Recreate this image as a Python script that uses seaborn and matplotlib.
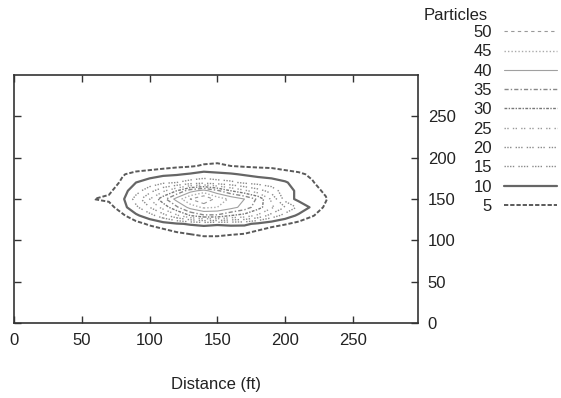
import numpy as np
import matplotlib
matplotlib.use("Agg")
import matplotlib.pyplot as plt
from matplotlib.lines import Line2D
import seaborn as sns

# grid of particle counts
distance_x = [50, 60, 70, 80, 90, 100, 110, 120, 130, 140,
              150, 160, 170, 180, 190, 200, 210, 220, 230, 240]
distance_y = [90, 100, 110, 120, 130, 140, 150, 160, 170, 180, 190, 200, 210]

counts_y090 = [0] * 20
counts_y100 = [0, 0, 0, 0, 0, 0, 0, 0.5, 2, 3, 3, 2, 1, 0, 0, 0, 0, 0, 0, 0]
counts_y110 = [0, 0, 0, 0, 0, 1, 3, 5, 6, 7, 7, 6.5, 6, 4, 2, 0, 0, 0, 0, 0]
counts_y120 = [0, 0, 0, 0, 3, 6, 8, 9.5, 10.5, 11, 10.5, 11, 11, 9, 7, 5.5, 3.5, 1, 0, 0]
counts_y130 = [0, 0, 0, 4, 9, 13, 18, 24, 30, 34, 34, 30, 28, 24, 18, 13, 9, 5.5, 2, 0]
counts_y140 = [0, 0, 3, 8, 14, 20, 27, 34, 42, 46, 45, 42, 38, 32, 26, 20, 14, 9, 4, 0]
counts_y150 = [0, 5.2, 6, 9, 17, 25, 33, 42, 50, 55, 48, 44, 40, 34, 24, 13, 8.5, 7, 5.5, 0]
counts_y160 = [0, 1, 4, 8, 13, 18, 24, 30, 38, 42, 36, 30, 26, 22, 18, 12, 9, 7, 4, 0]
counts_y170 = [0, 0, 2, 6, 10, 12, 14, 15, 17, 18, 17, 16, 14, 13, 12, 10.5, 8, 5.5, 2, 0]
counts_y180 = [0, 0, 0, 4.5, 7, 8, 9, 9.5, 10.5, 12, 11, 10.5, 9.5, 8.5, 8, 7, 6, 4, 0, 0]
counts_y190 = [0, 0, 0, 0, 1, 2, 3, 4, 4.5, 5.5, 6, 5, 4.5, 4.2, 4, 3, 2, 0, 0, 0]
counts_y200 = [0, 0, 0, 0, 0, 0, 0, 1, 2, 3, 3, 2, 1, 1, 0, 0, 0, 0, 0, 0]
counts_y210 = [0] * 20

levels = [5, 10, 15, 20, 25, 30, 35, 40, 45, 50]

# line look per level (gnuplot-like greys and dash patterns)
level_styles = {
    5: ("#5a5a5a", 1.4, (0, (2.2, 1.0))),
    10: ("#666666", 1.6, "solid"),
    15: ("#8a8a8a", 1.0, (0, (1, 1, 1, 1, 1, 1, 1, 3))),
    20: ("#8a8a8a", 1.0, (0, (1, 1, 1, 1, 1, 3))),
    25: ("#999999", 1.0, (0, (1, 1, 1, 3))),
    30: ("#777777", 1.0, (0, (2, 1, 1, 1))),
    35: ("#888888", 1.0, (0, (3, 1.5, 1, 1.5))),
    40: ("#a0a0a0", 0.8, "solid"),
    45: ("#aaaaaa", 1.0, (0, (1, 1.5))),
    50: ("#999999", 0.8, (0, (3, 3))),
}

sns.set_theme(style="white")
plt.rcParams["font.family"] = ["Liberation Sans", "DejaVu Sans"]

Z = np.array([counts_y090, counts_y100, counts_y110, counts_y120, counts_y130,
              counts_y140, counts_y150, counts_y160, counts_y170, counts_y180,
              counts_y190, counts_y200, counts_y210])
X, Y = np.meshgrid(distance_x, distance_y)

fig = plt.figure(figsize=(5.61, 3.98), dpi=100)
ax = fig.add_axes([0.025, 0.1884, 0.720, 0.623])

for lev in levels:
    color, lw, ls = level_styles[lev]
    ax.contour(X, Y, Z, levels=[lev], colors=[color], linewidths=[lw], linestyles=[ls])

ax.set_xlim(0, 298)
ax.set_ylim(0, 300)
ax.set_xticks([0, 50, 100, 150, 200, 250])
ax.set_yticks([0, 50, 100, 150, 200, 250])
for side in ax.spines.values():
    side.set_color("#333333")
    side.set_linewidth(1.2)
ax.tick_params(axis="x", direction="in", top=True, bottom=True, labelbottom=True,
               labeltop=False, length=5, width=1, color="#333333", pad=7,
               labelsize=12, labelcolor="#222222")
ax.tick_params(axis="y", direction="in", left=True, right=True, labelleft=False,
               labelright=True, length=5, width=1, color="#333333", pad=7,
               labelsize=12, labelcolor="#222222")
ax.set_xlabel("Distance (ft)", fontsize=12, labelpad=21, color="#222222")

handles = []
labels = []
for lev in levels[::-1]:
    color, lw, ls = level_styles[lev]
    handles.append(Line2D([], [], color=color, linewidth=lw, linestyle=ls))
    labels.append(str(lev))
fig.legend(handles, labels, loc="upper right", bbox_to_anchor=(557 / 561, 1 - 25 / 398),
           frameon=False, markerfirst=False, handlelength=3.2, handletextpad=0.7,
           labelspacing=0.26, borderpad=0, borderaxespad=0, fontsize=12,
           labelcolor="#222222")
fig.text(424 / 561, 1 - 15 / 398, "Particles", ha="left", va="center",
         fontsize=12, color="#222222")

fig.savefig("out.png", dpi=100)
